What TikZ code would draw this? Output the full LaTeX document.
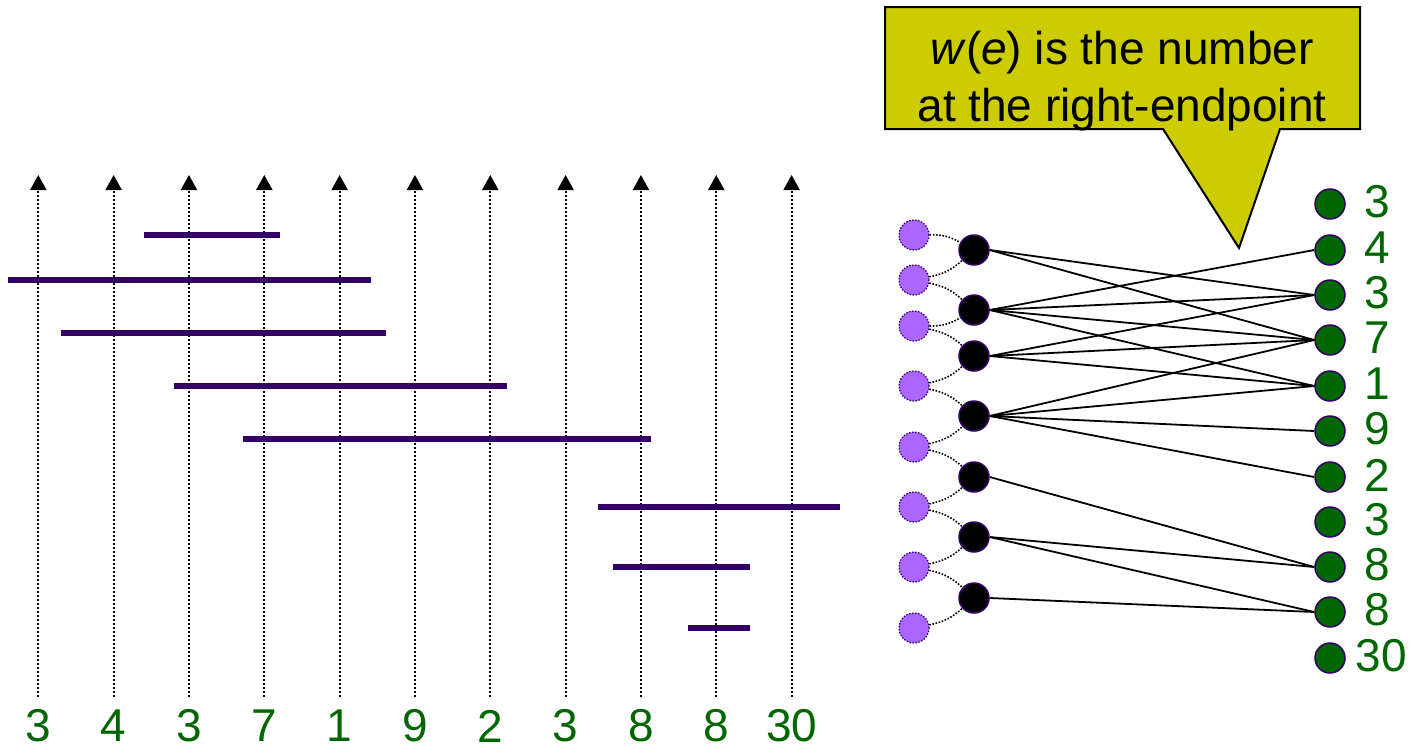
\documentclass[tikz,border=0pt]{standalone}
\usepackage{fontspec}
\setmainfont{Liberation Sans}
\usetikzlibrary{arrows.meta}
\definecolor{barcol}{HTML}{330066}
\definecolor{pnode}{HTML}{AA66FF}
\definecolor{gnode}{HTML}{006600}
\definecolor{calloutcol}{HTML}{CCCC00}
\begin{document}
\begin{tikzpicture}[x=1pt,y=-1pt,
  vline/.style={line width=2pt, dash pattern=on 2pt off 2pt, -{Triangle[width=16pt,length=15pt]}},
  ivbar/.style={line width=6pt, draw=barcol},
  lbl/.style={text=gnode, font=\fontsize{46}{55}\selectfont, inner sep=0pt},
  pv/.style={circle, minimum size=30pt, inner sep=0pt, fill=pnode, draw=barcol, line width=1.2pt, dash pattern=on 1.5pt off 1.5pt},
  bv/.style={circle, minimum size=30pt, inner sep=0pt, fill=black, draw=barcol, line width=1.5pt},
  gv/.style={circle, minimum size=30pt, inner sep=0pt, fill=gnode, draw=barcol, line width=1.5pt},
  dlink/.style={line width=1.6pt, dash pattern=on 1.6pt off 1.6pt},
  elink/.style={line width=1.8pt},
]
\useasboundingbox (0,0) rectangle (1412,748);

% number line with arrows
\foreach \i/\w in {0/3,1/4,2/3,3/7,4/1,5/9,6/2,7/3,8/8,9/8,10/30} {
  \pgfmathsetmacro\xx{38.3+75.33*\i}
  \coordinate (vb\i) at (\xx,697);
  \coordinate (vt\i) at (\xx,175);
  \draw[vline] (vb\i) -- (vt\i);
  \node[lbl] (num\i) at (\xx,726) {\w};
}

% intervals
\draw[ivbar] (144,235) -- (280,235);
\draw[ivbar] (8,280) -- (371,280);
\draw[ivbar] (61,333) -- (386,333);
\draw[ivbar] (174,386) -- (507,386);
\draw[ivbar] (243,439) -- (651,439);
\draw[ivbar] (598,507) -- (840,507);
\draw[ivbar] (613,567) -- (750,567);
\draw[ivbar] (688,628) -- (750,628);

% callout
\path[fill=calloutcol, draw=black, line width=2pt, line join=miter]
  (885,7) -- (1360,7) -- (1360,129) -- (1280,129) -- (1239,248) -- (1163,129) -- (885,129) -- cycle;
\node[align=center, font=\fontsize{46}{57}\selectfont, inner sep=0pt] (note) at (1122,81.5)
  {\textit{w}(\textit{e}) is the number\\at the right-endpoint};

% graph nodes
\foreach \y [count=\k] in {235,280,326,386,447,507,567,628}
  \node[pv] (p\k) at (914,\y) {};
\foreach \y [count=\k] in {250,310,356,416,477,537,598}
  \node[bv] (b\k) at (974,\y) {};
\foreach \y/\w [count=\k] in {204/3,250/4,295/3,340/7,386/1,431/9,477/2,522/3,567/8,612/8} {
  \node[gv] (g\k) at (1330,\y) {};
  \node[lbl] (gl\k) at (1377,\y-2) {\w};
}
\node[gv] (g11) at (1330,658) {};
\node[lbl] (gl11) at (1381,656) {30};

% dotted links purple - black
\draw[dlink] (p1) to[bend left=15] (b1);
\foreach \k [evaluate=\k as \km using int(\k-1)] in {2,...,7} {
  \draw[dlink] (p\k) to[bend right=15] (b\km);
  \draw[dlink] (p\k) to[bend left=15] (b\k);
}
\draw[dlink] (p8) to[bend right=15] (b7);

% edges black - green
\foreach \a/\b in {1/3,1/4,2/2,2/3,2/4,2/5,3/3,3/4,3/5,4/4,4/5,4/6,4/7,5/9,6/9,6/10,7/10}
  \draw[elink] (b\a.east) -- (g\b.west);
\end{tikzpicture}
\end{document}
